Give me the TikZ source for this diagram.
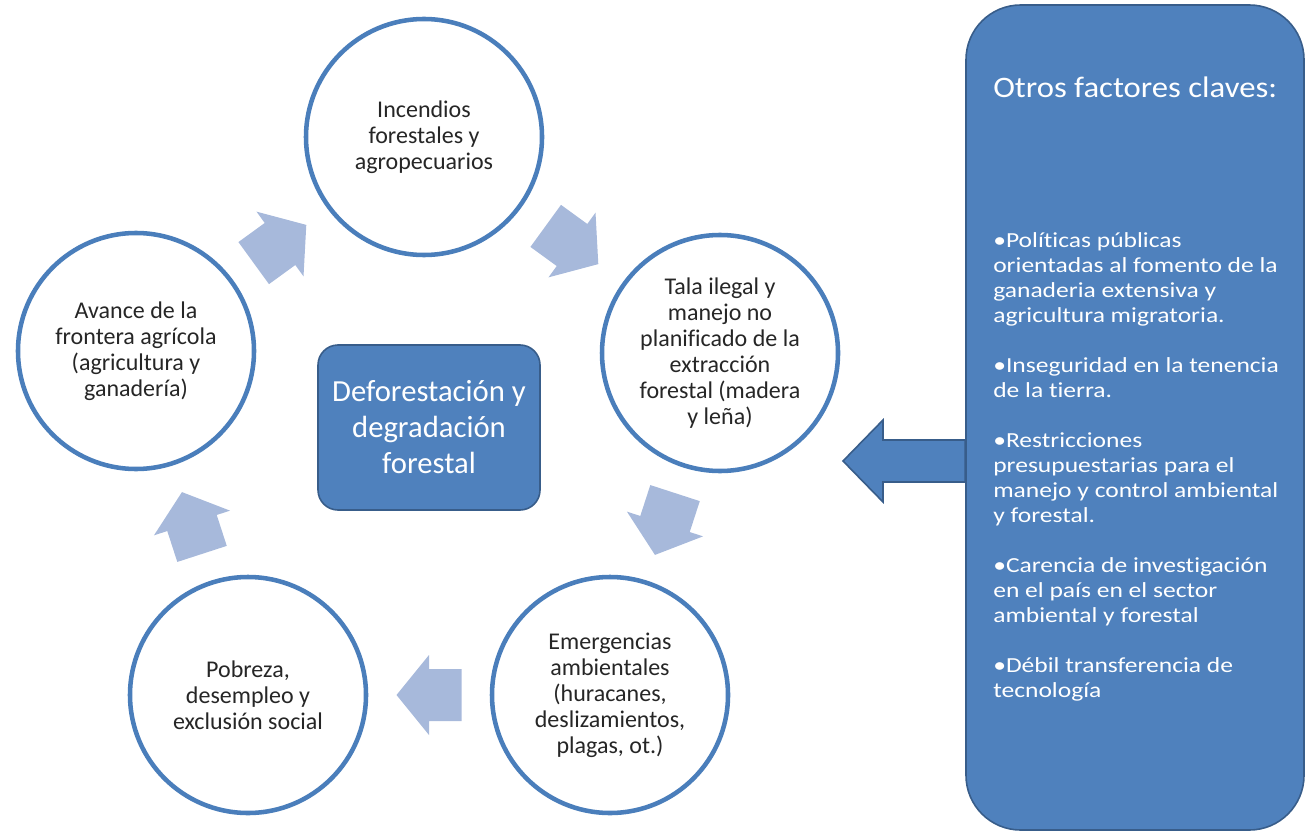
\documentclass[tikz,border=0pt]{standalone}
\usepackage{fontspec}
\setmainfont{Carlito}[RawFeature={-liga;-calt;-clig}]
\newfontfamily\panelfont[FakeStretch=1.19,RawFeature={-liga;-calt;-clig}]{Carlito}
\newfontfamily\titlefont[FakeStretch=1.1,RawFeature={-liga;-calt;-clig}]{Carlito}
\usetikzlibrary{calc}
\definecolor{ringblue}{RGB}{74,126,187}
\definecolor{boxblue}{RGB}{79,129,189}
\definecolor{boxedge}{RGB}{56,93,138}
\definecolor{arrowlight}{RGB}{167,185,219}
\definecolor{inktext}{RGB}{38,38,38}
\begin{document}
\begin{tikzpicture}[x=0.75pt,y=-0.75pt,
  cyclenode/.style={circle, draw=ringblue, line width=3.4pt, fill=white,
    minimum size=177pt, inner sep=0pt, align=center, text=inktext,
    font=\fontsize{18}{19.5}\selectfont},
  corebox/.style={rectangle, rounded corners=15pt, draw=boxedge, line width=1.2pt,
    fill=boxblue, minimum width=166.5pt, minimum height=123.75pt, align=center,
    text=white, font=\fontsize{23}{27}\selectfont},
  panelbox/.style={rectangle, rounded corners=41pt, draw=boxedge, line width=1.2pt,
    fill=boxblue, minimum width=253.5pt, minimum height=618.75pt},
  cyclearrow/.style={fill=arrowlight, draw=none},
  bigarrow/.style={fill=boxblue, draw=boxedge, line width=1.2pt, line join=miter},
  paneltext/.style={anchor=base west, inner sep=0pt, text=white}
]
\useasboundingbox (0,0) rectangle (1308,834);

% cycle circles
\node[cyclenode] (top)  at (424,137) {Incendios\\forestales y\\agropecuarios};
\node[cyclenode] (right) at (720,353) {Tala ilegal y\\manejo no\\planificado de la\\extracción\\forestal (madera\\y leña)};
\node[cyclenode] (botr) at (610,695) {Emergencias\\ambientales\\(huracanes,\\deslizamientos,\\plagas, ot.)};
\node[cyclenode] (botl) at (248,695) {Pobreza,\\desempleo y\\exclusión social};
\node[cyclenode] (left) at (136,351) {Avance de la\\frontera agrícola\\(agricultura y\\ganadería)};

% central box
\node[corebox] (core) at (429,427.5) {Deforestación y\\degradación\\forestal};

% cycle block arrows
\foreach \a/\b/\ang in {left/top/36, top/right/-36, right/botr/-108, botr/botl/180, botl/left/108}
  \path[cyclearrow, shift={($(\a)!0.5!(\b)$)}, rotate=\ang]
    (-32.5,-26) -- (0,-26) -- (0,-40) -- (32.5,0) -- (0,40) -- (0,26) -- (-32.5,26) -- cycle;

% right panel
\node[panelbox] (panel) at (1135,417.5) {};

% big arrow from panel
\coordinate (bigtip) at (843,461);
\draw[bigarrow] (bigtip) -- ++(40,-41) -- ++(0,20)
  -- ($(panel.west |- bigtip)+(0,-21)$) -- ($(panel.west |- bigtip)+(0,21)$)
  -- ($(bigtip)+(40,21)$) -- ($(bigtip)+(40,41)$) -- cycle;

\node[paneltext, font=\titlefont\fontsize{22.3}{26}\selectfont] (paneltitle) at (993,98) {Otros factores claves:};
\node[paneltext] (panellist) at (993,247) {\begin{minipage}[t]{300pt}\raggedright\setlength{\parindent}{0pt}%
\panelfont\fontsize{16.1}{18.75}\selectfont
•Políticas públicas\\
orientadas al fomento de la\\
ganaderia extensiva y\\
agricultura migratoria.\par\vspace{18.75pt}
•Inseguridad en la tenencia\\
de la tierra.\par\vspace{18.75pt}
•Restricciones\\
presupuestarias para el\\
manejo y control ambiental\\
y forestal.\par\vspace{18.75pt}
•Carencia de investigación\\
en el país en el sector\\
ambiental y forestal\par\vspace{18.75pt}
•Débil transferencia de\\
tecnología
\end{minipage}};
\end{tikzpicture}
\end{document}
